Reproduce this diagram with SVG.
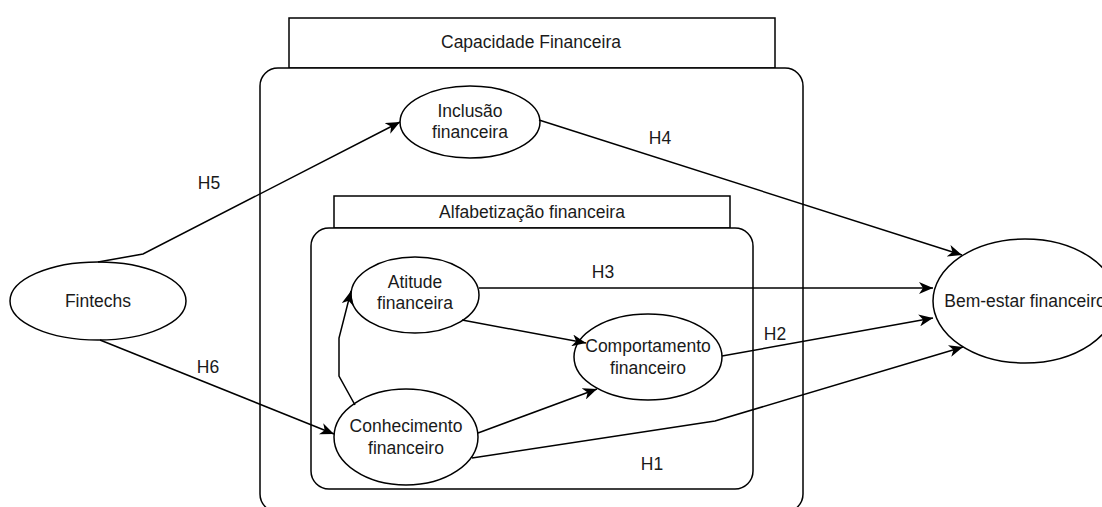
<svg xmlns="http://www.w3.org/2000/svg" width="1102" height="507" viewBox="0 0 1102 507">
  <style>
    .box { fill: #ffffff; stroke: #000000; stroke-width: 1.5; }
    .node { fill: #ffffff; stroke: #000000; stroke-width: 1.5; }
    .edge { fill: none; stroke: #000000; stroke-width: 1.5; marker-end: url(#arrow); }
    text { font-family: "Liberation Sans", Arial, sans-serif; font-size: 17.5px; fill: #1a1a1a; text-anchor: middle; }
  </style>
  <defs>
    <marker id="arrow" markerUnits="userSpaceOnUse" markerWidth="16" markerHeight="12" viewBox="0 0 16 12" refX="14" refY="6" orient="auto">
      <path d="M0,0 L14,6 L0,12 L4,6 Z" fill="#000000"/>
    </marker>
  </defs>

  <!-- Capacidade Financeira container -->
  <g id="capacidade">
    <rect class="box" x="289" y="18" width="486" height="50"/>
    <text x="531" y="48">Capacidade Financeira</text>
    <rect class="box" x="260" y="68" width="543" height="444" rx="18" ry="18"/>
  </g>

  <!-- Alfabetização financeira container -->
  <g id="alfabetizacao">
    <rect class="box" x="334" y="196" width="396" height="32"/>
    <text x="532" y="218">Alfabetização financeira</text>
    <rect class="box" x="311" y="228" width="442" height="261" rx="18" ry="18"/>
  </g>

  <g id="inclusao">
    <ellipse class="node" cx="470" cy="122" rx="70" ry="36"/>
    <text x="470" y="117">Inclusão</text>
    <text x="470" y="138">financeira</text>
  </g>

  <g id="fintechs">
    <ellipse class="node" cx="98" cy="301" rx="88" ry="39"/>
    <text x="98" y="307">Fintechs</text>
  </g>

  <g id="atitude">
    <ellipse class="node" cx="415" cy="295" rx="64" ry="38"/>
    <text x="415" y="288">Atitude</text>
    <text x="415" y="309">financeira</text>
  </g>

  <g id="comportamento">
    <ellipse class="node" cx="648" cy="357" rx="74" ry="43"/>
    <text x="648" y="352">Comportamento</text>
    <text x="648" y="374">financeiro</text>
  </g>

  <g id="conhecimento">
    <ellipse class="node" cx="406" cy="437" rx="72" ry="48"/>
    <text x="406" y="432">Conhecimento</text>
    <text x="406" y="454">financeiro</text>
  </g>

  <!-- the node runs past the right edge, as its label does -->
  <g id="bem-estar">
    <ellipse class="node" cx="1025" cy="301" rx="92" ry="62"/>
    <text x="1025" y="307">Bem-estar financeiro</text>
  </g>

  <!-- connectors -->
  <g id="connectors">
    <polyline class="edge" points="98,262 143,254 400,122"/>
    <line class="edge" x1="539" y1="120" x2="962" y2="255"/>
    <line class="edge" x1="479" y1="288" x2="933" y2="288"/>
    <line class="edge" x1="462" y1="320" x2="586" y2="343"/>
    <line class="edge" x1="722" y1="356" x2="933" y2="318"/>
    <line class="edge" x1="478" y1="433" x2="597" y2="389"/>
    <polyline class="edge" points="472,458 715,421 963,347"/>
    <polyline class="edge" points="355,405 339,376 339,338 351,291"/>
    <line class="edge" x1="100" y1="340" x2="334" y2="434"/>
  </g>

  <!-- hypothesis labels -->
  <g id="labels">
    <text x="209" y="189">H5</text>
    <text x="660" y="144">H4</text>
    <text x="603" y="278">H3</text>
    <text x="775" y="340">H2</text>
    <text x="208" y="373">H6</text>
    <text x="652" y="470">H1</text>
  </g>
</svg>
